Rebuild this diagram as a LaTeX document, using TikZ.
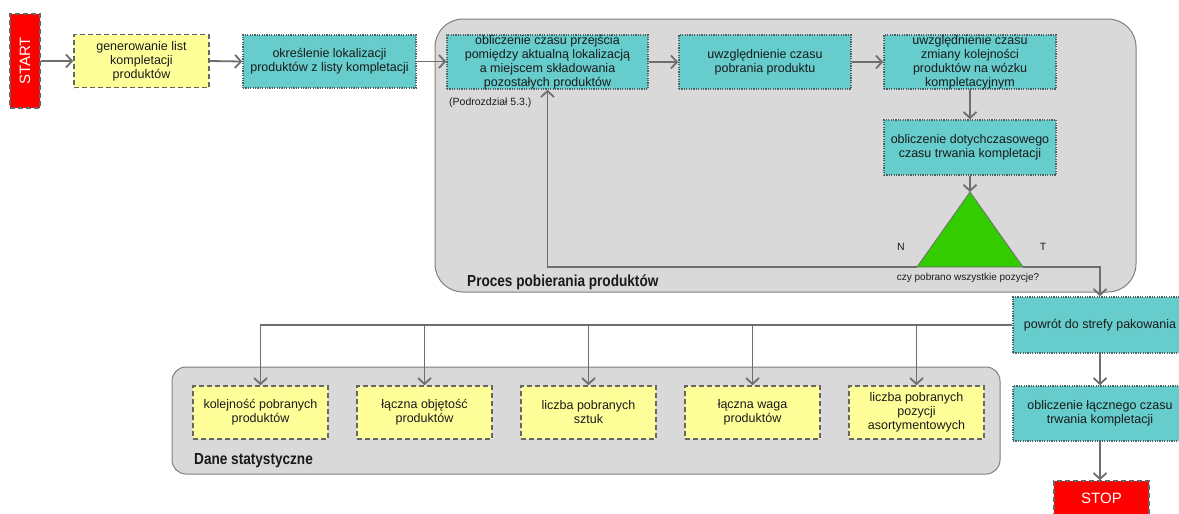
\documentclass[tikz,border=0pt]{standalone}
\usepackage{fontspec}
\usepackage{graphicx}
\setmainfont{Liberation Sans}
\usetikzlibrary{arrows.meta}

\definecolor{tealfill}{HTML}{66CCCC}
\definecolor{tealedge}{HTML}{4A6262}
\definecolor{yellowfill}{HTML}{FFFF99}
\definecolor{boxedge}{HTML}{666666}
\definecolor{groupfill}{HTML}{D9D9D9}
\definecolor{groupedge}{HTML}{808080}
\definecolor{linkcol}{HTML}{6E6E6E}
\definecolor{decfill}{HTML}{33CC00}
\definecolor{textcol}{HTML}{1A1A1A}

\tikzset{
  procbox/.style={rectangle, fill=tealfill, draw=tealedge, line width=1.6pt,
    dash pattern=on 1.2pt off 1.2pt, minimum width=172pt, minimum height=54pt,
    inner sep=0pt, align=center, text=textcol,
    font=\fontsize{12.5}{14}\selectfont},
  databox/.style={rectangle, fill=yellowfill, draw=boxedge, line width=1.6pt,
    dash pattern=on 5pt off 3pt, minimum width=135pt, minimum height=53pt,
    inner sep=0pt, align=center, text=textcol,
    font=\fontsize{12.5}{14}\selectfont},
  termbox/.style={rectangle, fill=red, draw=boxedge, line width=1.6pt,
    dash pattern=on 5pt off 3pt, inner sep=0pt, text=white,
    font=\fontsize{15}{17}\selectfont},
  groupbox/.style={fill=groupfill, draw=groupedge, line width=1pt},
  grouplabel/.style={anchor=west, inner sep=0pt, text=textcol},
  smalllabel/.style={inner sep=0pt, text=textcol, font=\fontsize{10.5}{12}\selectfont},
  link/.style={draw=linkcol, line width=1.8pt,
    -{Straight Barb[length=6pt, width=13pt, line width=1.8pt]}},
}

\begin{document}
\begin{tikzpicture}[x=1pt, y=-1pt]
  \useasboundingbox (0,0) rectangle (1179,514);
  \clip (0,0) rectangle (1179,514);

  % group backgrounds
  \draw[groupbox, rounded corners=28pt] (435,19) rectangle (1136,292);
  \draw[groupbox, rounded corners=14pt] (172,367) rectangle (1000,474);
  \node[grouplabel] (glab1) at (467,282)
    {\scalebox{0.85}[1]{\fontsize{16}{18}\selectfont\bfseries Proces pobierania produktów}};
  \node[grouplabel] (glab2) at (194,461)
    {\scalebox{0.85}[1]{\fontsize{16}{18}\selectfont\bfseries Dane statystyczne}};

  % main flow
  \node[termbox, minimum width=30pt, minimum height=94pt] (start) at (25,61)
    {\rotatebox{90}{START}};
  \node[databox] (gen) at (141.5,61) {generowanie list\\kompletacji\\produktów};
  \node[procbox, minimum width=173pt, minimum height=53pt] (okr) at (329.5,61.5)
    {określenie lokalizacji\\produktów z listy kompletacji};
  \node[procbox, minimum width=201pt] (obl) at (547.5,62)
    {obliczenie czasu przejścia\\pomiędzy aktualną lokalizacją\\a miejscem składowania\\pozostałych produktów};
  \node[smalllabel, anchor=west] (podr) at (449,103) {(Podrozdział 5.3.)};
  \node[procbox] (uwz1) at (765,62) {uwzględnienie czasu\\pobrania produktu};
  \node[procbox] (uwz2) at (970,62)
    {uwzględnienie czasu\\zmiany kolejności\\produktów na wózku\\kompletacyjnym};
  \node[procbox, minimum height=55pt] (dot) at (970,147.5)
    {obliczenie dotychczasowego\\czasu trwania kompletacji};

  % decision triangle
  \coordinate (apex) at (970,192);
  \coordinate (baseL) at (917,267);
  \coordinate (baseR) at (1023,267);
  \filldraw[fill=decfill, draw=linkcol, line width=0.8pt] (apex) -- (baseR) -- (baseL) -- cycle;
  \node[smalllabel, font=\fontsize{10}{12}\selectfont] (qlab) at (968,278) {czy pobrano wszystkie pozycje?};
  \node[smalllabel] (nlab) at (901,247) {N};
  \node[smalllabel] (tlab) at (1043,247) {T};

  \node[procbox, minimum width=174pt, minimum height=56pt] (pow) at (1100,325)
    {powrót do strefy pakowania};
  \node[procbox, minimum width=174pt, minimum height=55pt] (sum) at (1100,413.5)
    {obliczenie łącznego czasu\\trwania kompletacji};
  \node[termbox, minimum width=95pt, minimum height=34pt] (stop) at (1101.5,498) {STOP};

  % statistics
  \node[databox] (s1) at (260.5,412.5) {kolejność pobranych\\produktów};
  \node[databox] (s2) at (424.5,412.5) {łączna objętość\\produktów};
  \node[databox] (s3) at (588.5,412.5) {liczba pobranych\\sztuk};
  \node[databox] (s4) at (752.5,412.5) {łączna waga\\produktów};
  \node[databox] (s5) at (916.5,412.5) {liczba pobranych\\pozycji\\asortymentowych};

  % connectors
  \draw[link] (start.east) -- (gen.west);
  \draw[link] (gen.east) -- (okr.west);
  \draw[link] (okr.east) -- (okr.east -| obl.west);
  \draw[link] (obl.east) -- (uwz1.west);
  \draw[link] (uwz1.east) -- (uwz2.west);
  \draw[link] (uwz2.south) -- (dot.north);
  \draw[link] (dot.south) -- (apex);
  \draw[link] (baseL) -| (obl.south);
  \draw[link] (baseR) -| (pow.north);
  \draw[link] (pow.south) -- (sum.north);
  \draw[link] (sum.south) -- (stop.north -| sum.south);
  \draw[link] (pow.west) -| (s1.north);
  \draw[link] (pow.west -| s2.north) -- (s2.north);
  \draw[link] (pow.west -| s3.north) -- (s3.north);
  \draw[link] (pow.west -| s4.north) -- (s4.north);
  \draw[link] (pow.west -| s5.north) -- (s5.north);
\end{tikzpicture}
\end{document}
